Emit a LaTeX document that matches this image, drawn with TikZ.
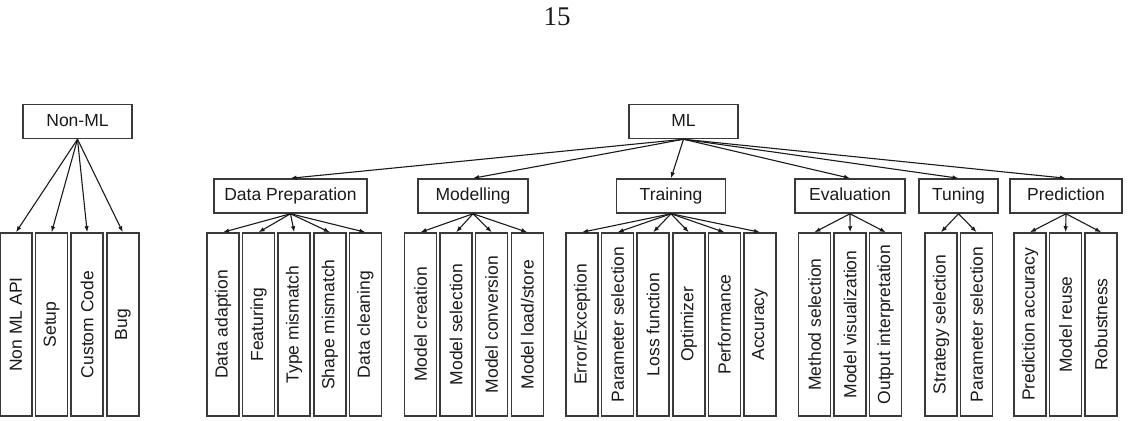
\documentclass[tikz,border=0pt]{standalone}
\usepackage{fontspec}
\setmainfont{Liberation Sans}
\newfontfamily\pagefont{Liberation Serif}
\usetikzlibrary{arrows.meta,positioning}
\definecolor{txInk} {HTML}{1A1A1A}
\definecolor{txEdge}{HTML}{3A3A3A}

\tikzset{
  catbox/.style={draw=txEdge,line width=1.5pt,minimum height=34pt,inner sep=0pt,
                 text height=12.5pt,text depth=3.5pt,text=txInk},
  leafbox/.style={draw=txEdge,line width=1.5pt,minimum width=32pt,minimum height=183pt,
                  inner sep=0pt,text=txInk},
  tree/.style={-{Latex[length=6pt,width=4.5pt]},txInk,line width=1.1pt},
  leaf gap/.style={right=2.1pt of #1},
}

\begin{document}
\begin{tikzpicture}[x=1pt,y=-1pt,font=\fontsize{17.5}{20}\selectfont]
    \useasboundingbox (0,0) rectangle (1131,420);

    \node[font=\pagefont\fontsize{27}{30}\selectfont,text=txInk] (page) at (557,17) {15};

    % the two roots
    \node[catbox,minimum width=109pt] (nonml) at (77.5,121.5) {Non-ML};
    \node[catbox,minimum width=109pt] (ml)    at (683.5,121.5) {ML};

    % ML categories
    \node[catbox,minimum width=153pt] (prep)  at (290.5,196) {Data Preparation};
    \node[catbox,minimum width=110pt] (model) at (473,196)   {Modelling};
    \node[catbox,minimum width=109pt] (train) at (671,196)   {Training};
    \node[catbox,minimum width=110pt] (eval)  at (850,196)   {Evaluation};
    \node[catbox,minimum width=79pt]  (tune)  at (958.5,196) {Tuning};
    \node[catbox,minimum width=112pt] (pred)  at (1066,196)  {Prediction};

    % Non-ML leaves
    \node[leafbox] (na1) at (16,324.5) {\rotatebox{90}{Non ML API}};
    \node[leafbox,leaf gap=na1] (na2) {\rotatebox{90}{Setup}};
    \node[leafbox,leaf gap=na2] (na3) {\rotatebox{90}{Custom Code}};
    \node[leafbox,leaf gap=na3] (na4) {\rotatebox{90}{Bug}};

    % data preparation leaves
    \node[leafbox] (dp1) at (223,324.5) {\rotatebox{90}{Data adaption}};
    \node[leafbox,leaf gap=dp1] (dp2) {\rotatebox{90}{Featuring}};
    \node[leafbox,leaf gap=dp2] (dp3) {\rotatebox{90}{Type mismatch}};
    \node[leafbox,leaf gap=dp3] (dp4) {\rotatebox{90}{Shape mismatch}};
    \node[leafbox,leaf gap=dp4] (dp5) {\rotatebox{90}{Data cleaning}};

    % modelling leaves
    \node[leafbox] (mo1) at (420.5,324.5) {\rotatebox{90}{Model creation}};
    \node[leafbox,leaf gap=mo1] (mo2) {\rotatebox{90}{Model selection}};
    \node[leafbox,leaf gap=mo2] (mo3) {\rotatebox{90}{Model conversion}};
    \node[leafbox,leaf gap=mo3] (mo4) {\rotatebox{90}{Model load/store}};

    % training leaves
    \node[leafbox] (tr1) at (582,324.5) {\rotatebox{90}{Error/Exception}};
    \node[leafbox,leaf gap=tr1] (tr2) {\rotatebox{90}{Parameter selection}};
    \node[leafbox,leaf gap=tr2] (tr3) {\rotatebox{90}{Loss function}};
    \node[leafbox,leaf gap=tr3] (tr4) {\rotatebox{90}{Optimizer}};
    \node[leafbox,leaf gap=tr4] (tr5) {\rotatebox{90}{Performance}};
    \node[leafbox,leaf gap=tr5] (tr6) {\rotatebox{90}{Accuracy}};

    % evaluation leaves
    \node[leafbox] (ev1) at (814.5,324.5) {\rotatebox{90}{Method selection}};
    \node[leafbox,leaf gap=ev1] (ev2) {\rotatebox{90}{Model visualization}};
    \node[leafbox,leaf gap=ev2] (ev3) {\rotatebox{90}{Output interpretation}};

    % tuning leaves
    \node[leafbox] (tu1) at (941,324.5) {\rotatebox{90}{Strategy selection}};
    \node[leafbox,leaf gap=tu1] (tu2) {\rotatebox{90}{Parameter selection}};

    % prediction leaves
    \node[leafbox] (pr1) at (1030,324.5) {\rotatebox{90}{Prediction accuracy}};
    \node[leafbox,leaf gap=pr1] (pr2) {\rotatebox{90}{Model reuse}};
    \node[leafbox,leaf gap=pr2] (pr3) {\rotatebox{90}{Robustness}};

    % connectors
    \foreach \c in {prep,model,train,eval,tune,pred}
      \draw[tree] (ml.south) -- (\c.north);
    \foreach \l in {na1,na2,na3,na4}
      \draw[tree] (nonml.south) -- (\l.north);
    \foreach \l in {dp1,dp2,dp3,dp4,dp5}
      \draw[tree] (prep.south) -- (\l.north);
    \foreach \l in {mo1,mo2,mo3,mo4}
      \draw[tree] (model.south) -- (\l.north);
    \foreach \l in {tr1,tr2,tr3,tr4,tr5,tr6}
      \draw[tree] (train.south) -- (\l.north);
    \foreach \l in {ev1,ev2,ev3}
      \draw[tree] (eval.south) -- (\l.north);
    \foreach \l in {tu1,tu2}
      \draw[tree] (tune.south) -- (\l.north);
    \foreach \l in {pr1,pr2,pr3}
      \draw[tree] (pred.south) -- (\l.north);
\end{tikzpicture}
\end{document}
